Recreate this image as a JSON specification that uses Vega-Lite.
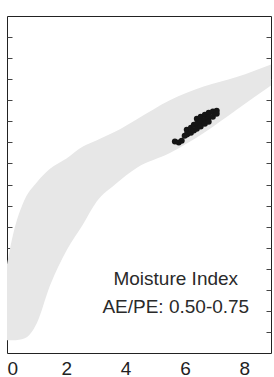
{
  "$schema": "https://vega.github.io/schema/vega-lite/v6.json",
  "autosize": {"type": "none"},
  "width": 264,
  "height": 337,
  "padding": {"left": 7, "top": 16, "right": 3, "bottom": 24},
  "background": "white",
  "config": {
    "view": {"stroke": "#222222", "strokeWidth": 1},
    "font": "Liberation Sans",
    "axis": {"grid": false, "domain": false, "tickColor": "#444444", "tickWidth": 1, "labelFont": "Liberation Sans", "labelColor": "#222222"}
  },
  "datasets": {
    "band": [
      {"x": 0.0, "lo": 0.6, "hi": 4.2},
      {"x": 0.2, "lo": 0.6, "hi": 5.6},
      {"x": 0.6, "lo": 0.7, "hi": 7.3},
      {"x": 1.0, "lo": 1.4, "hi": 8.1},
      {"x": 1.45, "lo": 3.2, "hi": 8.75},
      {"x": 2.02, "lo": 4.9, "hi": 9.25},
      {"x": 2.56, "lo": 6.1, "hi": 9.8},
      {"x": 3.03, "lo": 7.2, "hi": 10.1},
      {"x": 3.64, "lo": 8.0, "hi": 10.5},
      {"x": 4.38, "lo": 8.8, "hi": 11.1},
      {"x": 5.49, "lo": 9.5, "hi": 12.0},
      {"x": 6.63, "lo": 10.45, "hi": 12.65},
      {"x": 7.74, "lo": 11.55, "hi": 13.1},
      {"x": 8.9, "lo": 12.7, "hi": 13.7}
    ],
    "pts": [
      {"x": 5.66, "y": 10.04}, {"x": 5.79, "y": 9.99}, {"x": 5.89, "y": 10.08},
      {"x": 5.99, "y": 10.32}, {"x": 6.09, "y": 10.41}, {"x": 6.06, "y": 10.6}, {"x": 6.06, "y": 10.37},
      {"x": 6.2, "y": 10.46}, {"x": 6.2, "y": 10.7},
      {"x": 6.3, "y": 10.56}, {"x": 6.3, "y": 10.84},
      {"x": 6.4, "y": 11.12}, {"x": 6.4, "y": 10.89}, {"x": 6.4, "y": 10.65},
      {"x": 6.53, "y": 11.22}, {"x": 6.53, "y": 10.98}, {"x": 6.53, "y": 10.75},
      {"x": 6.67, "y": 11.31}, {"x": 6.67, "y": 11.08}, {"x": 6.67, "y": 10.89},
      {"x": 6.8, "y": 11.41}, {"x": 6.8, "y": 11.17}, {"x": 6.8, "y": 10.98},
      {"x": 6.94, "y": 11.46}, {"x": 6.94, "y": 11.22},
      {"x": 7.07, "y": 11.5}, {"x": 7.07, "y": 11.36}
    ],
    "labels": [
      {"x": 5.69, "y": 3.5, "t": "Moisture Index"},
      {"x": 5.69, "y": 2.18, "t": "AE/PE: 0.50-0.75"}
    ]
  },
  "resolve": {"axis": {"y": "independent"}},
  "layer": [
    {
      "data": {"name": "band"},
      "mark": {"type": "area", "color": "#e7e7e7", "interpolate": "monotone"},
      "encoding": {
        "x": {"field": "x", "type": "quantitative", "scale": {"domain": [0, 8.9], "nice": false, "zero": false},
              "axis": {"title": null, "values": [0, 2, 4, 6, 8], "ticks": false, "labelFontSize": 19, "labelPadding": 6, "labelBaseline": "top"}},
        "y": {"field": "hi", "type": "quantitative", "scale": {"domain": [0, 16], "nice": false},
              "axis": {"title": null, "orient": "left", "values": [1,2,3,4,5,6,7,8,9,10,11,12,13,14,15], "labels": false, "tickSize": -5}},
        "y2": {"field": "lo"}
      }
    },
    {
      "data": {"name": "pts"},
      "mark": {"type": "circle", "color": "#151515", "size": 36, "opacity": 1},
      "encoding": {
        "x": {"field": "x", "type": "quantitative"},
        "y": {"field": "y", "type": "quantitative",
              "axis": {"title": null, "orient": "right", "values": [1,2,3,4,5,6,7,8,9,10,11,12,13,14,15], "labels": false, "tickSize": -5}}
      }
    },
    {
      "data": {"name": "labels"},
      "mark": {"type": "text", "fontSize": 19, "color": "#2a2a2a", "align": "center", "baseline": "middle", "font": "Liberation Sans"},
      "encoding": {
        "x": {"field": "x", "type": "quantitative"},
        "y": {"field": "y", "type": "quantitative", "axis": null},
        "text": {"field": "t"}
      }
    }
  ]
}
